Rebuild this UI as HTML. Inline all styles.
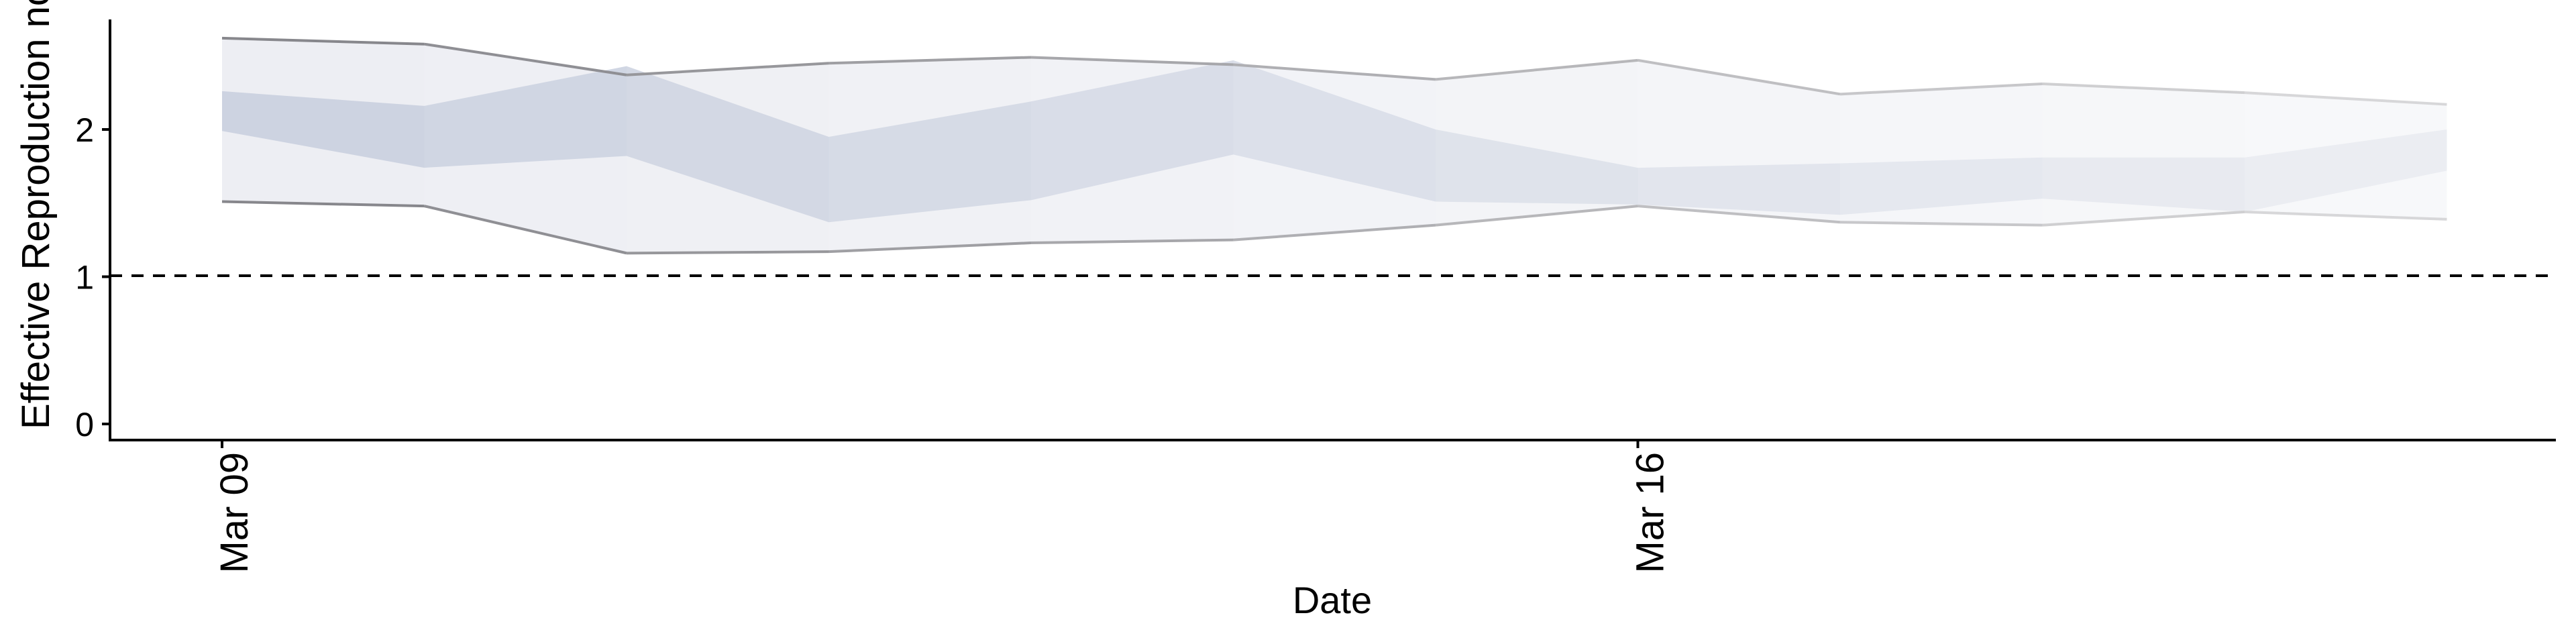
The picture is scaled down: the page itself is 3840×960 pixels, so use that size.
<!DOCTYPE html>
<html><head><meta charset="utf-8"><style>
html,body{margin:0;padding:0;background:#fff;}
svg{display:block;font-family:"Liberation Sans",sans-serif;}
</style></head><body>
<svg id="chart" width="3840" height="960" viewBox="0 0 3840 960" xmlns="http://www.w3.org/2000/svg">
<g id="bands"></g>
<g id="lines"></g>
<line x1="164" x2="3810" y1="411" y2="411" stroke="#000" stroke-width="4" stroke-dasharray="18,14"/>
<line x1="164" x2="164" y1="29" y2="658" stroke="#000" stroke-width="4"/>
<line x1="162" x2="3810" y1="656" y2="656" stroke="#000" stroke-width="4"/>
<g id="yticks"></g>
<g id="xticks"></g>
<text transform="translate(73,640) rotate(-90)" font-size="58" fill="#000">Effective Reproduction no.</text>
<text x="1986" y="914" font-size="56" text-anchor="middle" fill="#000">Date</text>
</svg>
<script>
const days = [0,1,2,3,4,5,6,7,8,9,10,11];
const upper90 = [2.62,2.58,2.37,2.45,2.49,2.44,2.34,2.47,2.24,2.31,2.25,2.17];
const lower90 = [1.51,1.48,1.16,1.17,1.23,1.25,1.35,1.48,1.37,1.35,1.44,1.39];
const upper50 = [2.26,2.16,2.43,1.95,2.19,2.47,2.00,1.74,1.77,1.81,1.81,2.00];
const lower50 = [1.99,1.74,1.82,1.37,1.52,1.83,1.51,1.49,1.42,1.53,1.44,1.72];
const yTicks = [0,1,2];
const xTickDays = [0,7];
const xTickLabels = ["Mar 09","Mar 16"];

const NS="http://www.w3.org/2000/svg";
const X = d => 331 + d*301.5;
const Y = v => 632 - v*219.5;
function lerp(a,b,t){return Math.round(a+(b-a)*t);}
function col(c1,c2,t){return `rgb(${lerp(c1[0],c2[0],t)},${lerp(c1[1],c2[1],t)},${lerp(c1[2],c2[2],t)})`;}
const bands=document.getElementById('bands'), lines=document.getElementById('lines');
const n=days.length;
for(let i=0;i<n-1;i++){
  const t=i/(n-2);
  const a=days[i], b=days[i+1];
  const p1=document.createElementNS(NS,'polygon');
  p1.setAttribute('points',`${X(a)},${Y(upper90[i])} ${X(b)},${Y(upper90[i+1])} ${X(b)},${Y(lower90[i+1])} ${X(a)},${Y(lower90[i])}`);
  p1.setAttribute('fill',col([237,238,243],[247,248,250],t));
  
  
  bands.appendChild(p1);
  const p2=document.createElementNS(NS,'polygon');
  p2.setAttribute('points',`${X(a)},${Y(upper50[i])} ${X(b)},${Y(upper50[i+1])} ${X(b)},${Y(lower50[i+1])} ${X(a)},${Y(lower50[i])}`);
  p2.setAttribute('fill',col([205,211,225],[235,237,242],t));
  
  
  bands.appendChild(p2);
  [upper90,lower90].forEach((arr,k)=>{
    const l=document.createElementNS(NS,'line');
    l.setAttribute('x1',X(a));l.setAttribute('x2',X(b));
    l.setAttribute('y1',Y(arr[i]));l.setAttribute('y2',Y(arr[i+1]));
    l.setAttribute('stroke',col([135,135,140],[215,215,217],t));
    l.setAttribute('stroke-width','4');
    
    
    lines.appendChild(l);
  });
}
const yt=document.getElementById('yticks');
yTicks.forEach(v=>{
  const l=document.createElementNS(NS,'line');
  l.setAttribute('x1',152);l.setAttribute('x2',164);l.setAttribute('y1',Y(v));l.setAttribute('y2',Y(v));
  l.setAttribute('stroke','#000');l.setAttribute('stroke-width','4');
  
  
  yt.appendChild(l);
  const tx=document.createElementNS(NS,'text');
  tx.setAttribute('x',140);tx.setAttribute('y',Y(v)+18);tx.setAttribute('text-anchor','end');tx.setAttribute('font-size','50');
  tx.textContent=v;
  
  
  yt.appendChild(tx);
});
const xt=document.getElementById('xticks');
xTickDays.forEach((d,i)=>{
  const l=document.createElementNS(NS,'line');
  l.setAttribute('x1',X(d));l.setAttribute('x2',X(d));l.setAttribute('y1',656);l.setAttribute('y2',668);
  l.setAttribute('stroke','#000');l.setAttribute('stroke-width','4');
  
  
  xt.appendChild(l);
  const tx=document.createElementNS(NS,'text');
  tx.setAttribute('transform',`translate(${X(d)+38},674) rotate(-90)`);
  tx.setAttribute('text-anchor','end');tx.setAttribute('font-size','58');
  tx.textContent=xTickLabels[i];
  
  
  xt.appendChild(tx);
});
</script>
</body></html>
